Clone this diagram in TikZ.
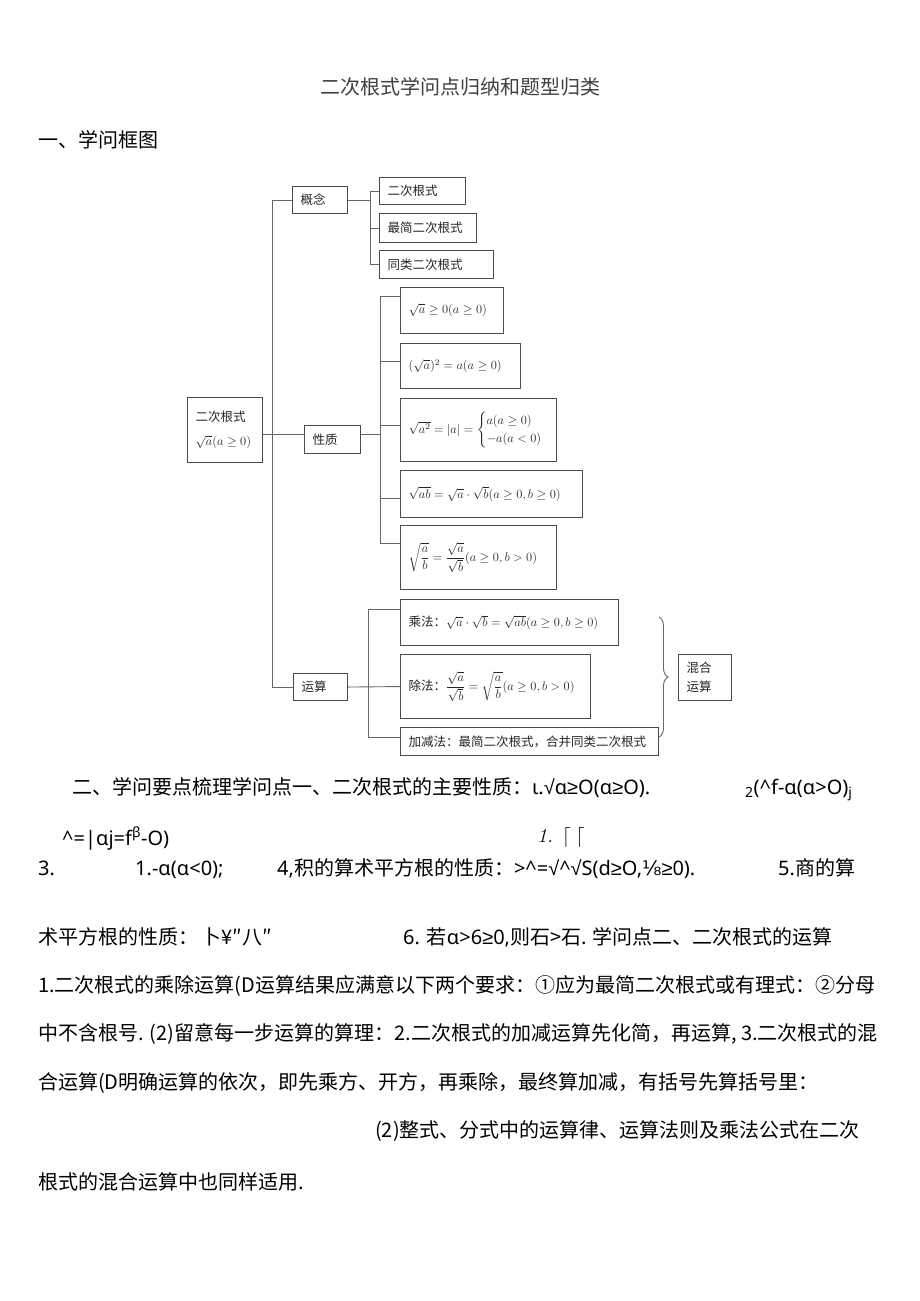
\RequirePackage{fix-cm}
\documentclass[tikz,border=0pt]{standalone}
\usepackage{amsmath}
\usepackage{fontspec}
\setmainfont{Noto Sans CJK SC}
\newfontfamily\lat{Noto Sans}
\newfontfamily\sym{Liberation Sans}
\newfontfamily\djv{DejaVu Sans}
\newcommand\gsym{{\sym ≥}}
\newcommand\rsym{{\sym √}}
\usetikzlibrary{decorations.pathreplacing}

\begin{document}
\begin{tikzpicture}[
  x=1pt, y=-1pt,
  box/.style={draw=black!70, line width=1.1pt, anchor=north west, inner xsep=8pt,
    inner ysep=0pt, align=left, text=black!85, font=\fontsize{12.5}{15}\selectfont},
  ln/.style={draw=black!60, line width=0.9pt},
  txt/.style={anchor=base west, inner sep=0pt, font=\fontsize{20}{24}\selectfont}
]
\useasboundingbox (0,0) rectangle (920,1301);
\fill[white] (0,0) rectangle (920,1301);

% ---------- Title ----------
\node[txt, text=black!75] (title) at (320,94) {二次根式学问点归纳和题型归类};
\node[txt] (sec1) at (38,147) {一、学问框图};

% ---------- Root and first level ----------
\node[box, minimum width=75, minimum height=65, text width=59] (root) at (187,397)
  {二次根式\\[9pt]\mbox{$\sqrt{a}(a\ge0)$}};
\node[box, minimum width=55, minimum height=27, text width=39] (gn) at (292,186) {概念};
\node[box, minimum width=56, minimum height=28, text width=40] (xz) at (304,425) {性质};
\node[box, minimum width=54, minimum height=27, text width=38] (ys) at (293,673) {运算};

% ---------- Concept boxes ----------
\node[box, minimum height=27, text width=70] (c1) at (379,177) {二次根式};
\node[box, minimum height=29, text width=81] (c2) at (379,213) {最简二次根式};
\node[box, minimum height=28, text width=98] (c3) at (379,250) {同类二次根式};

% ---------- Property boxes ----------
\node[box, minimum height=46, text width=87] (p1) at (400,287) {\mbox{$\sqrt{a}\ge0(a\ge0)$}};
\node[box, minimum height=45, text width=104] (p2) at (400,343) {\mbox{$(\sqrt{a})^2=a(a\ge0)$}};
\node[box, minimum height=63, text width=140] (p3) at (400,398)
  {\mbox{$\sqrt{a^2}=|a|=\begin{cases}a(a\ge0)\\-a(a<0)\end{cases}$}};
\node[box, minimum height=47, text width=166] (p4) at (400,470)
  {\mbox{$\sqrt{ab}=\sqrt{a}\cdot\sqrt{b}(a\ge0,b\ge0)$}};
\node[box, minimum height=64, text width=140] (p5) at (400,525)
  {\mbox{$\sqrt{\dfrac{a}{b}}=\dfrac{\sqrt{a}}{\sqrt{b}}(a\ge0,b>0)$}};

% ---------- Operation boxes ----------
\node[box, minimum height=46, text width=202] (mul) at (400,599)
  {\mbox{乘法：$\sqrt{a}\cdot\sqrt{b}=\sqrt{ab}(a\ge0,b\ge0)$}};
\node[box, minimum height=64, text width=174] (dv) at (400,654)
  {\mbox{除法：$\dfrac{\sqrt{a}}{\sqrt{b}}=\sqrt{\dfrac{a}{b}}(a\ge0,b>0)$}};
\node[box, minimum height=28, text width=242] (jj) at (400,727)
  {\mbox{加减法：最简二次根式，合并同类二次根式}};
\node[box, minimum height=46, text width=37] (hh) at (678,654) {混合\\[4pt]运算};

% ---------- Connectors ----------
\draw[ln] (gn.west) -- ++(-20,0) |- (ys.west);
\draw[ln] ([yshift=-4pt]root.east) -- ([yshift=-4pt]root.east -| xz.west);

\draw[ln] (gn.east) -- ++(22,0) |- (c1.west);
\draw[ln] (gn.east) -- ++(22,0) |- (c2.west);
\draw[ln] (gn.east) -- ++(22,0) |- (c3.west);

\draw[ln] ([yshift=5pt]xz.east) -- ++(19,0) |- ([yshift=14pt]p1.west);
\draw[ln] ([yshift=5pt]xz.east) -- ++(19,0) |- ([yshift=5pt]p2.west);
\draw[ln] ([yshift=5pt]xz.east) -- ++(19,0) |- ([yshift=5pt]p3.west);
\draw[ln] ([yshift=5pt]xz.east) -- ++(19,0) |- ([yshift=-4pt]p4.west);
\draw[ln] ([yshift=5pt]xz.east) -- ++(19,0) |- ([yshift=14pt]p5.west);

\draw[ln] (ys.east) -- (dv.west);
\draw[ln] (dv.west) ++(-32,0) |- ([yshift=13pt]mul.west);
\draw[ln] (dv.west) ++(-32,0) |- ([yshift=4pt]jj.west);

% ---------- Brace ----------
\coordinate (bt) at (659,617);
\coordinate (bb) at (659,737);
\draw[ln, decorate, decoration={brace, amplitude=9pt}] (bt) -- (bb);

% ---------- Text ----------
\node[txt] (l1a) at (72,794) {二、学问要点梳理学问点一、二次根式的主要性质：{\lat ι.\rsym{}α\gsym{}O(α\gsym{}O).}};
\node[txt] (l1b) at (745,794) {\lat\textsubscript{2}(\^{}f-α(α>O)\textsubscript{j}};
\node[txt] (l2a) at (62,845) {\lat\^{}=|αj=f\textsuperscript{β}-O)};
\node[txt] (l2b) at (537,842) {{\fontfamily{lmr}\selectfont\itshape 1.}\ \ $\lceil$\ $\lceil$};
\node[txt] (l3a) at (38,875) {\lat 3.};
\node[txt] (l3b) at (135,875) {\lat 1.-α(α<0);};
\node[txt] (l3c) at (277,875) {{\lat 4,}积的算术平方根的性质：{\lat >\^{}=\rsym{}\^{}\rsym{}S(d\gsym{}O,{\djv ⅛}\gsym{}0).}};
\node[txt] (l3d) at (778,875) {{\lat 5.}商的算};
\node[txt] (l4a) at (38,944) {术平方根的性质：\,\textit{卜¥″八″}};
\node[txt] (l4b) at (403,944) {{\lat 6. }若{\lat α>6\gsym{}0,}则石>石. 学问点二、二次根式的运算};
\node[txt] (l5) at (38,992) {1.二次根式的乘除运算(D运算结果应满意以下两个要求：①应为最简二次根式或有理式：②分母};
\node[txt] (l6) at (38,1040) {中不含根号. (2)留意每一步运算的算理：2.二次根式的加减运算先化简，再运算, 3.二次根式的混};
\node[txt] (l7) at (38,1089) {合运算(D明确运算的依次，即先乘方、开方，再乘除，最终算加减，有括号先算括号里：};
\node[txt] (l8) at (375,1137) {(2)整式、分式中的运算律、运算法则及乘法公式在二次};
\node[txt] (l9) at (38,1189) {根式的混合运算中也同样适用.};

\end{tikzpicture}
\end{document}
